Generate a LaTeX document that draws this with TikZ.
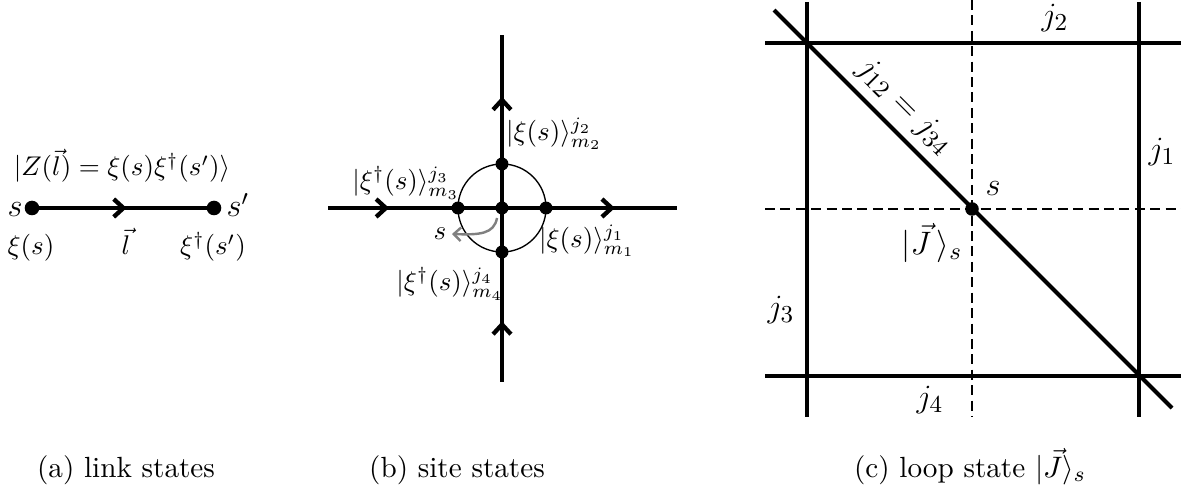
\documentclass[tikz,border=0pt]{standalone}
\usetikzlibrary{arrows.meta,decorations.markings}
\begin{document}
\begin{tikzpicture}[x=0.37pt,y=-0.37pt,
  thickline/.style={line width=1.6pt},
  gridline/.style={line width=1.5pt},
  dashline/.style={line width=0.75pt,dash pattern=on 3.7pt off 2pt},
  bigdot/.style={circle,fill=black,inner sep=0pt,minimum size=5.4pt},
  smalldot/.style={circle,fill=black,inner sep=0pt,minimum size=4.8pt},
  barb/.tip={Straight Barb[length=3.6pt,width=6.6pt]},
  onearrow/.style={postaction={decorate},decoration={markings,mark=at position #1 with {\arrow{barb}}}},
  twoarrows/.style={postaction={decorate},decoration={markings,
     mark=at position 0.175 with {\arrow{barb}},
     mark=at position 0.822 with {\arrow{barb}}}},
  lab/.style={inner sep=0pt},
  biglab/.style={inner sep=0pt,font=\fontsize{12.8}{15}\selectfont},
  caption/.style={anchor=base,inner sep=0pt,font=\fontsize{10.8}{13}\selectfont}]
\useasboundingbox (0,0) rectangle (1181,495);

% ---------- (a) link states ----------
\node[bigdot] (sA) at (32,208) {};
\node[bigdot] (sB) at (214,208) {};
\draw[thickline,onearrow=0.52] (sA.center) -- (sB.center);
\node[anchor=base,lab] (lz) at (122,176) {$|Z(\vec{l})=\xi(s)\xi^\dagger(s')\rangle$};
\node[anchor=base,lab,font=\large] (ls) at (15,217) {$s$};
\node[anchor=base,lab,font=\large] (lsp) at (238,217) {$s'$};
\node[anchor=base,lab] (lxi) at (31,255) {$\xi(s)$};
\node[anchor=base,lab] (ll) at (126,255) {$\vec{l}$};
\node[anchor=base,lab] (lxid) at (213,255) {$\xi^\dagger(s')$};
\node[caption] (capa) at (126,477) {(a) link states};

% ---------- (b) site states ----------
\coordinate (bL) at (328,208);
\coordinate (bR) at (677,208);
\coordinate (bT) at (502,35);
\coordinate (bB) at (502,382);
\draw[thickline,twoarrows] (bL) -- (bR);
\draw[thickline,twoarrows] (bB) -- (bT);
\draw[line width=0.5pt] (502,208) circle[radius=44];
\node[smalldot] (c0) at (502,208) {};
\node[smalldot] (c1) at (546,208) {};
\node[smalldot] (c2) at (502,164) {};
\node[smalldot] (c3) at (458,208) {};
\node[smalldot] (c4) at (502,252) {};
\coordinate (gs) at (497,218);
\coordinate (ge) at (452,234);
\node[lab] (bs) at (440,234) {$s$};
\draw[gray,line width=0.9pt,-{Straight Barb[length=2.6pt,width=5pt]}] (gs) .. controls (494,234) and (480,235) .. (ge);
\node[lab] (b2) at (554,134) {$|\xi(s)\rangle^{j_2}_{m_2}$};
\node[lab] (b3) at (406,183) {$|\xi^\dagger(s)\rangle^{j_3}_{m_3}$};
\node[lab] (b1) at (587,241) {$|\xi(s)\rangle^{j_1}_{m_1}$};
\node[lab] (b4) at (450,284) {$|\xi^\dagger(s)\rangle^{j_4}_{m_4}$};
\node[caption] (capb) at (457,477) {(b) site states};

% ---------- (c) loop state ----------
\coordinate (vLt) at (807,2);   \coordinate (vLb) at (807,417);
\coordinate (vRt) at (1139,2);  \coordinate (vRb) at (1139,417);
\coordinate (hTl) at (765,43);  \coordinate (hTr) at (1181,43);
\coordinate (hBl) at (765,376); \coordinate (hBr) at (1181,376);
\coordinate (dVt) at (972,0);   \coordinate (dVb) at (972,417);
\coordinate (dHl) at (765,209); \coordinate (dHr) at (1181,209);
\coordinate (dgA) at (774,10);  \coordinate (dgB) at (1172,408);
\draw[gridline] (vLt) -- (vLb);
\draw[gridline] (vRt) -- (vRb);
\draw[gridline] (hTl) -- (hTr);
\draw[gridline] (hBl) -- (hBr);
\draw[dashline] (dVt) -- (dVb);
\draw[dashline] (dHl) -- (dHr);
\draw[gridline] (dgA) -- (dgB);
\node[smalldot,minimum size=5pt] (cs) at (972,209) {};
\node[biglab] (cj2) at (1055,18) {$j_2$};
\node[biglab] (cj1) at (1162,152) {$j_1$};
\node[biglab] (cj3) at (781,310) {$j_3$};
\node[biglab] (cj4) at (930,400) {$j_4$};
\node[biglab] (css) at (993,189) {$s$};
\node[biglab] (cJ) at (932,243) {$|\vec{J}\,\rangle_s$};
\node[biglab,rotate=-45] (cjj) at (905,107) {$j_{12}=j_{34}$};
\node[caption] (capc) at (970,477) {(c) loop state $|\vec{J}\rangle_s$};
\end{tikzpicture}
\end{document}
